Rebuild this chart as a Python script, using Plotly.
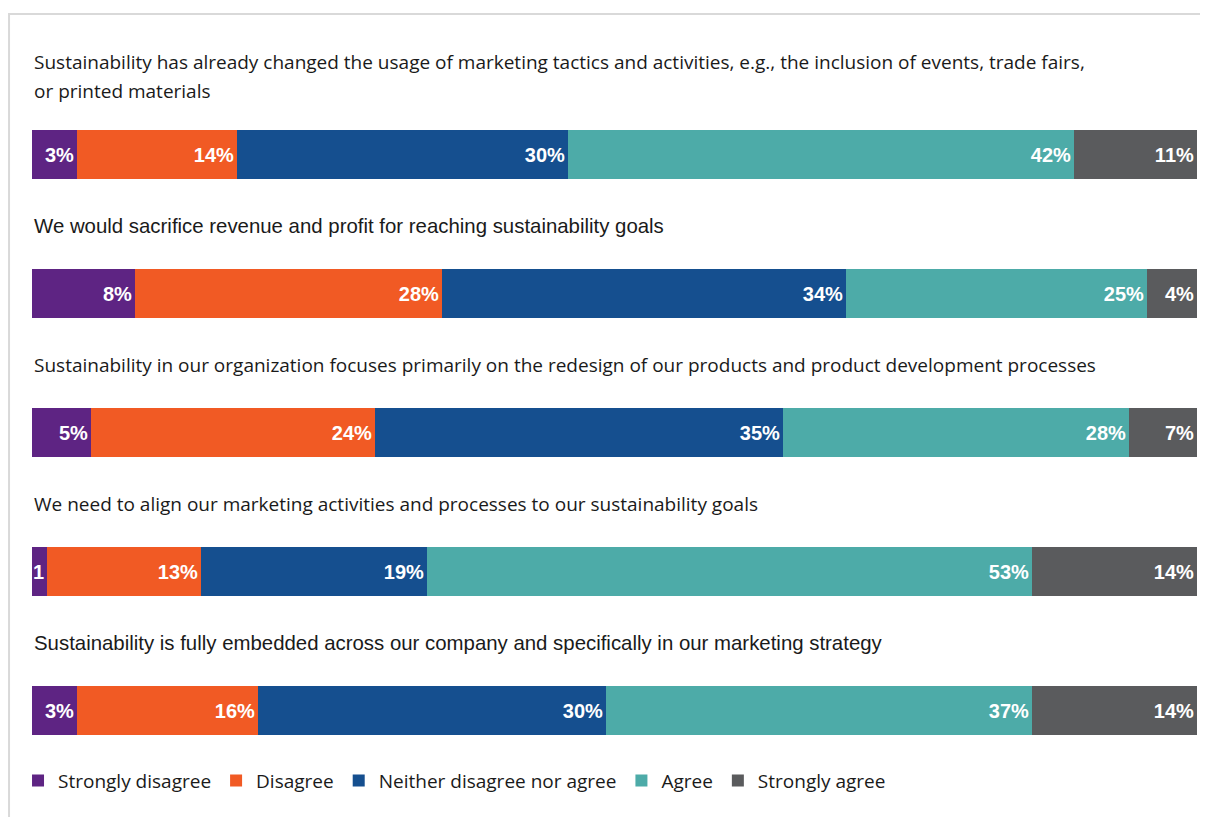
import plotly.graph_objects as go

statements = [
    "Sustainability has already changed the usage of marketing tactics and activities, e.g., the inclusion of events, trade fairs,|or printed materials",
    "We would sacrifice revenue and profit for reaching sustainability goals",
    "Sustainability in our organization focuses primarily on the redesign of our products and product development processes",
    "We need to align our marketing activities and processes to our sustainability goals",
    "Sustainability is fully embedded across our company and specifically in our marketing strategy",
]
categories = ["Strongly disagree", "Disagree", "Neither disagree nor agree", "Agree", "Strongly agree"]
colors = ["#5E2483", "#F15A24", "#154F8F", "#4DABA8", "#5A5B5D"]

# segment widths as drawn (share of bar, %)
strongly_disagree = [3.9, 8.8, 5.1, 1.3, 3.9]
disagree = [13.7, 26.4, 24.3, 13.2, 15.5]
neither = [28.4, 34.7, 35.1, 19.4, 29.9]
agree = [43.4, 25.8, 29.7, 51.9, 36.5]
strongly_agree = [10.6, 4.3, 5.8, 14.2, 14.2]

# printed labels
lbl_sd = ["3%", "8%", "5%", "1", "3%"]
lbl_d = ["14%", "28%", "24%", "13%", "16%"]
lbl_n = ["30%", "34%", "35%", "19%", "30%"]
lbl_a = ["42%", "25%", "28%", "53%", "37%"]
lbl_sa = ["11%", "4%", "7%", "14%", "14%"]

series = [strongly_disagree, disagree, neither, agree, strongly_agree]
labels = [lbl_sd, lbl_d, lbl_n, lbl_a, lbl_sa]
rows = list(range(len(statements)))

fig = go.Figure()
for name, vals, lbl, col in zip(categories, series, labels, colors):
    fig.add_trace(go.Bar(
        name=name, x=vals, y=rows, orientation="h",
        marker=dict(color=col, line=dict(width=0)),
        width=0.3525,
        text=lbl, textposition="inside", insidetextanchor="end", textangle=0,
        textfont=dict(family="Liberation Sans, Arial, sans-serif", size=20, color="white", weight="bold"),
        hoverinfo="skip",
    ))

regular = dict(family="Open Sans, sans-serif", size=19, color="#1a1a1a")
narrow = dict(family="Liberation Sans, Arial, sans-serif", size=20.4, color="#1a1a1a")
title_fonts = [regular, narrow, regular, regular, narrow]

annotations = []
for r, (txt, f) in enumerate(zip(statements, title_fonts)):
    parts = txt.split("|")
    if len(parts) == 2:
        annotations.append(dict(x=0, y=r - 0.665, xref="x", yref="y", text=parts[0], showarrow=False,
                                xanchor="left", yanchor="middle", font=f))
        annotations.append(dict(x=0, y=r - 0.457, xref="x", yref="y", text=parts[1], showarrow=False,
                                xanchor="left", yanchor="middle", font=f))
    else:
        annotations.append(dict(x=0, y=r - 0.489, xref="x", yref="y", text=txt, showarrow=False,
                                xanchor="left", yanchor="middle", font=f))

fig.update_layout(
    width=1200, height=809,
    margin=dict(l=24, r=11, t=7, b=37),
    paper_bgcolor="white", plot_bgcolor="white",
    barmode="stack", bargap=0,
    showlegend=True,
    legend=dict(orientation="h", x=-0.012, xanchor="left", y=-0.001, yanchor="middle",
                font=dict(family="Open Sans, sans-serif", size=19, color="#1a1a1a"),
                itemwidth=30, traceorder="normal", tracegroupgap=0),
    uniformtext=dict(minsize=20, mode="show"),
    xaxis=dict(range=[0, 100], visible=False, fixedrange=True),
    yaxis=dict(range=[4.50, -1.0036], visible=False, fixedrange=True),
    annotations=annotations,
    shapes=[dict(type="rect", xref="paper", yref="paper", x0=-0.0197, x1=1.2, y0=-0.2, y1=1.0013,
                 line=dict(color="#d9d9d9", width=2), fillcolor="rgba(0,0,0,0)", layer="below")],
)

fig.write_html("out.html", config={"displayModeBar": False})
